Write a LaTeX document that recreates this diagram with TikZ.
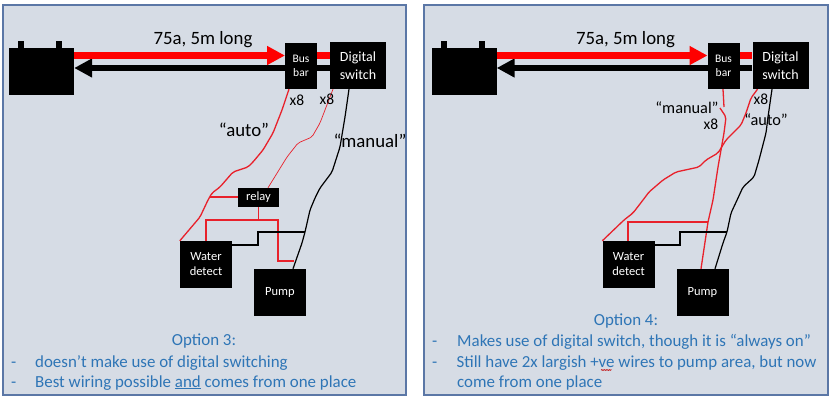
\documentclass[tikz,border=0pt]{standalone}
\usepackage{fontspec}
\setmainfont{Carlito}
\usetikzlibrary{arrows.meta,decorations.pathmorphing}
\definecolor{panelfill}{HTML}{D6DCE5}
\definecolor{panelline}{HTML}{5B77A6}
\definecolor{noteblue}{HTML}{2E75B6}
\definecolor{wirered}{HTML}{E8212B}
\definecolor{heavyred}{HTML}{FF0000}
\tikzset{
  panel/.style={draw=panelline,line width=1.3pt,fill=panelfill,minimum width=#1,minimum height=390pt,inner sep=0pt},
  block/.style={fill=black,text=white,inner sep=0pt,align=center},
  redwire/.style={draw=wirered,line width=1.3pt,line join=round,rounded corners=2pt},
  thinred/.style={draw=wirered,line width=.7pt,line join=round,rounded corners=2pt},
  blackwire/.style={draw=black,line width=1.2pt,line join=round,rounded corners=2pt},
  squarered/.style={draw=wirered,line width=1.4pt,line join=miter},
  squareblack/.style={draw=black,line width=1.2pt,line join=miter},
  heavyfeed/.style={draw=heavyred,line width=6.5pt,-{Triangle[length=18pt,width=18pt]}},
  heavyret/.style={draw=black,line width=6.5pt,-{Triangle[length=18pt,width=18pt]}},
  heavylink/.style={draw=heavyred,line width=6.5pt},
  big/.style={font=\fontsize{18.8}{20}\selectfont,inner sep=0pt},
  smallquote/.style={font=\fontsize{16.3}{18}\selectfont,inner sep=0pt},
  mid/.style={font=\fontsize{15.5}{17}\selectfont,inner sep=0pt},
  note/.style={font=\fontsize{16.9}{19}\selectfont,text=noteblue,inner sep=0pt},
  notetext/.style={note,anchor=base west},
}
% Battery, bus bar, digital switch, water sensor and pump, with the main feeds
\newcommand{\wiringbase}[1]{%
  \node[block,minimum width=65pt,minimum height=47pt] (#1bat) at (41.5,71.5) {};
  \node[block,minimum width=6pt,minimum height=8pt] (#1tl) at (21,44.5) {};
  \node[block,minimum width=6pt,minimum height=8pt] (#1tr) at (59,44.5) {};
  \node[block,minimum width=56pt,minimum height=47pt,font=\fontsize{14}{18}\selectfont] (#1sw) at (358,65.5) {Digital\\switch};
  \draw[heavylink] (317,55.5) -- (#1sw.west |- 0,55.5);
  \draw[heavyret] (#1sw.west |- 0,68) -- (#1bat.east |- 0,68);
  \draw[heavyfeed] (#1bat.east |- 0,55.5) -- (285,55.5);
  \node[block,minimum width=32pt,minimum height=46pt,font=\fontsize{11.5}{14}\selectfont] (#1bus) at (301,66) {Bus\\bar};
  \node[block,minimum width=52pt,minimum height=47pt,font=\fontsize{12.5}{15}\selectfont] (#1wd) at (206,264.5) {Water\\detect};
  \node[block,minimum width=52pt,minimum height=47pt,font=\fontsize{12.5}{15}\selectfont] (#1pump) at (280,292.5) {Pump};
  \node[big,anchor=center] (#1cap) at (203,39.5) {75a, 5m long};
}
\begin{document}
\begin{tikzpicture}[x=1pt,y=-1pt]
\useasboundingbox (0,0) rectangle (832,400);
\fill[white] (0,0) rectangle (832,400);
\node[panel=403pt] (panelA) at (204.5,200) {};
\node[panel=404pt] (panelB) at (626,200) {};

% Option 3
\wiringbase{a}
\node[block,minimum width=41pt,minimum height=19pt,font=\fontsize{12.5}{14}\selectfont] (relay) at (258.5,197.5) {relay};
\draw[redwire] ([xshift=-12pt]abus.south) -- (282,110) -- (273,133) -- (263,150) -- (253,162) -- (248,167) -- (233,172) -- (220,187) -- (212,193) -- (208,200) -- (200,217) -- (awd.north west);
\draw[thinred] ([xshift=-25pt]asw.south) -- (325,110) -- (320,123) -- (312,137) -- (298,143) -- (287,157) -- ([xshift=9.5pt]relay.north);
\draw[blackwire] ([xshift=-9pt]asw.south) -- (345,117) -- (340,147) -- (332,172) -- (320,188) -- (315,198) -- (310,210) -- (305,232) -- (302,243) -- ([xshift=13pt]apump.north);
\draw[squarered] (210,197) -- (relay.west |- 0,197);
\draw[squarered] (relay.south) -- (258.5,220);
\draw[squarered] (awd.north) -- (206,220) -- (278,220) -- (278,261) -- (294,261);
\draw[squareblack] (awd.east |- 0,245) -- (258,245) -- (258,232) -- (305,232);
\node[mid] (ax1) at (297,100) {x8};
\node[mid] (ax2) at (327,99) {x8};
\node[big] (aauto) at (244,130) {“auto”};
\node[big] (aman) at (370,141) {“manual”};
\node[note] (aopt) at (204,341) {Option 3:};
\node[notetext] (ad1) at (11,367) {-};
\node[notetext] (al1) at (35,367) {doesn’t make use of digital switching};
\node[notetext] (ad2) at (11,387) {-};
\node[notetext] (al2) at (35,387) {Best wiring possible \underline{and} comes from one place};

% Option 4
\begin{scope}[xshift=422.5pt]
\wiringbase{b}
\end{scope}
\draw[redwire] ([xshift=-0.5pt]bbus.south) -- (724,107);
\draw[redwire] (720,108) -- (726,117) -- (724,133) -- (718,167) -- (713,200) -- (708,222) -- ([xshift=-1.5pt]bpump.north);
\draw[redwire] ([xshift=-23pt]bsw.south) -- (751,98) -- (746,113) -- (741,125) -- (726,140) -- (718,153) -- (706,160) -- (699,167) -- (676,172) -- (663,180) -- (649,192) -- (643,200) -- (633,213) -- (624,220) -- (bwd.north west);
\draw[blackwire] ([xshift=-8.5pt]bsw.south) -- (768,117) -- (766,133) -- (759,160) -- (754,177) -- (743,187) -- (738,198) -- (731,213) -- (727,232) -- (723,243) -- ([xshift=12.5pt]bpump.north);
\draw[squarered] ([xshift=-0.5pt]bwd.north) -- (628,222) -- (708,222);
\draw[squareblack] (bwd.east |- 0,245) -- (680,245) -- (680,232) -- (727,232);
\node[smallquote] (bman) at (687,108) {“manual”};
\node[mid] (bx1) at (711,124) {x8};
\node[mid] (bx2) at (761,99) {x8};
\node[smallquote] (bauto) at (766,120) {“auto”};
\node[note] (bopt) at (626,321) {Option 4:};
\node[notetext] (bd1) at (432,346) {-};
\node[notetext] (bl1) at (457,346) {Makes use of digital switch, though it is “always on”};
\node[notetext] (bd2) at (432,367) {-};
\node[notetext] (bl2) at (456.5,367) {Still have 2x largish +ve wires to pump area, but now};
\node[notetext] (bl3) at (457,387) {come from one place};
\draw[draw=red!75!black,line width=.4pt,decorate,decoration={zigzag,segment length=1.6pt,amplitude=.6pt}] (601,370) -- (611.5,370);
\end{tikzpicture}
\end{document}
